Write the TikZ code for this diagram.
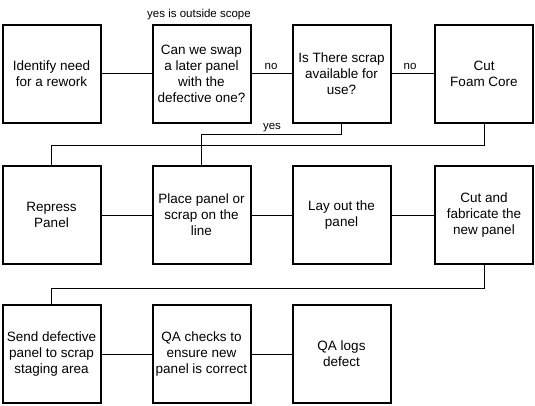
\documentclass[tikz,border=0pt]{standalone}
\usepackage{fontspec}
\setmainfont{Liberation Sans}
\begin{document}
\begin{tikzpicture}[x=1pt,y=1pt,
  stepbox/.style={draw=black,line width=2pt,minimum width=98pt,minimum height=98pt,inner sep=1pt,align=center,font=\fontsize{13.5}{16}\selectfont,fill=white},
  link/.style={draw=black,line width=1pt},
  lbl/.style={font=\fontsize{11.5}{13}\selectfont,inner sep=0pt}]
\useasboundingbox (0,0) rectangle (535,405);
% row 1
\node[stepbox] (a1) at (51.5,331) {Identify need\\for a rework};
\node[stepbox] (a2) at (201.5,331) {Can we swap\\a later panel\\with the\\defective one?};
\node[stepbox] (a3) at (341.5,331) {Is There scrap\\available for\\use?};
\node[stepbox] (a4) at (484,331) {Cut\\Foam Core};
% row 2
\node[stepbox] (b1) at (51.5,190) {Repress\\Panel};
\node[stepbox] (b2) at (201.5,190) {Place panel or\\scrap on the\\line};
\node[stepbox] (b3) at (341.5,190) {Lay out the\\panel};
\node[stepbox] (b4) at (484,190) {Cut and\\fabricate the\\new panel};
% row 3
\node[stepbox] (c1) at (51.5,51) {Send defective\\panel to scrap\\staging area};
\node[stepbox] (c2) at (201.5,51) {QA checks to\\ensure new\\panel is correct};
\node[stepbox] (c3) at (341.5,51) {QA logs\\defect};
% labels
\node[lbl] (lscope) at (199,390) {yes is outside scope};
\node[lbl] (lno1) at (271,339) {no};
\node[lbl] (lno2) at (410,339) {no};
\node[lbl] (lyes) at (272,277) {yes};
% connectors
\draw[link] (a1) -- (a2);
\draw[link] (a2) -- (a3);
\draw[link] (a3) -- (a4);
\coordinate (e1) at (484,260);
\coordinate (e2) at (51.5,260);
\draw[link] (a4.south) -- (e1) -- (e2) -- (b1.north);
\coordinate (y1) at (341.5,270);
\coordinate (y2) at (201.5,270);
\draw[link] (a3.south) -- (y1) -- (y2) -- (b2.north);
\draw[link] (b1) -- (b2);
\draw[link] (b2) -- (b3);
\draw[link] (b3) -- (b4);
\coordinate (f1) at (484,117);
\coordinate (f2) at (51.5,117);
\draw[link] (b4.south) -- (f1) -- (f2) -- (c1.north);
\draw[link] (c1) -- (c2);
\draw[link] (c2) -- (c3);
\end{tikzpicture}
\end{document}
